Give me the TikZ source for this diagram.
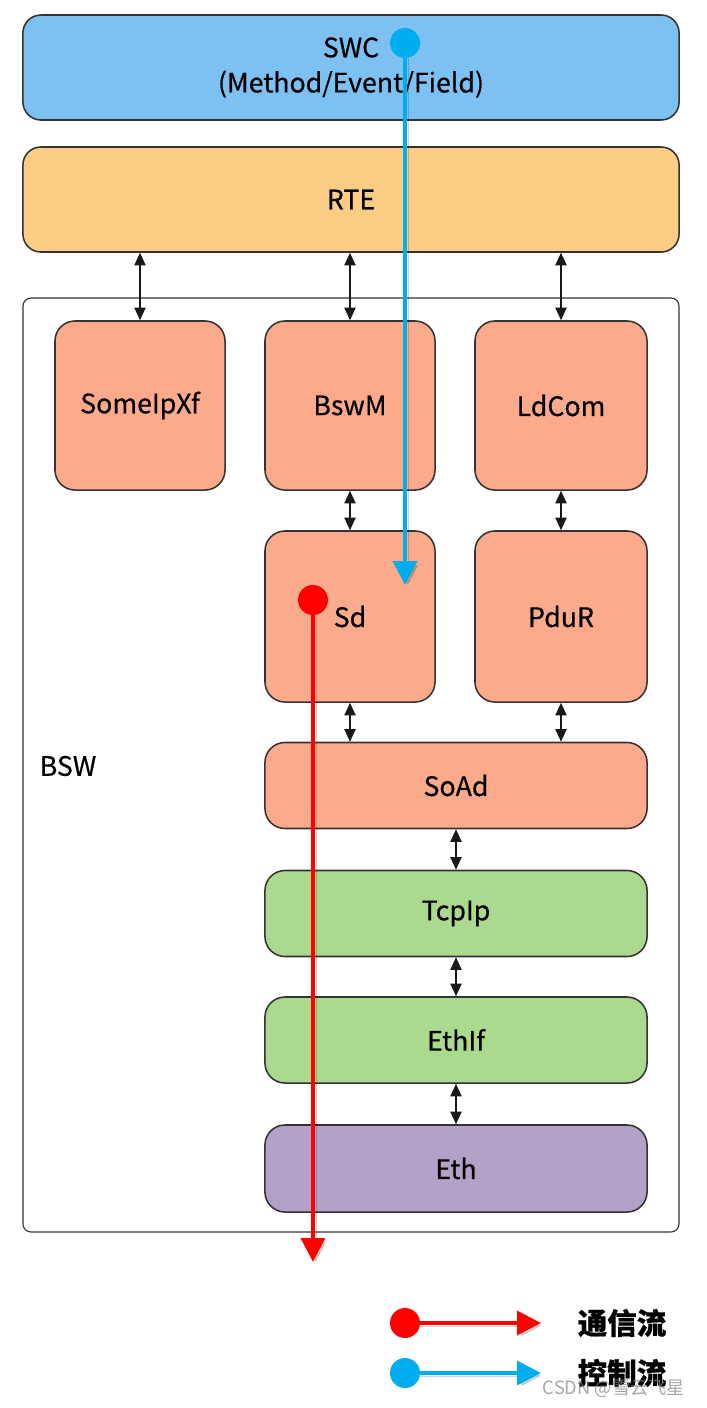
\documentclass[tikz,border=0pt]{standalone}
\usepackage{fontspec}
\setmainfont{Noto Sans CJK SC}[FakeBold=0.5]
\newfontfamily\markfont{Noto Sans CJK SC}
\usetikzlibrary{arrows.meta}
\definecolor{swcblue}{HTML}{7DC1F2}
\definecolor{rteorange}{HTML}{FDCD85}
\definecolor{bswsalmon}{HTML}{FBAA8C}
\definecolor{ethgreen}{HTML}{ABDA8F}
\definecolor{ethpurple}{HTML}{B3A2C7}
\definecolor{boxline}{HTML}{333333}
\definecolor{flowblue}{HTML}{00ADEF}
\definecolor{flowred}{HTML}{FF0000}
\tikzset{
  layer/.style={draw=boxline, line width=1.1pt, rounded corners=0.45cm,
    minimum width=16.4cm, minimum height=2.625cm, align=center},
  bswmod/.style={draw=boxline, line width=1.1pt, rounded corners=0.5cm,
    fill=bswsalmon, minimum width=4.25cm, minimum height=4.225cm},
  widemod/.style={bswmod, minimum width=9.55cm, minimum height=2.15cm},
  link/.style={{Triangle[length=9pt,width=8pt]}-{Triangle[length=9pt,width=8pt]},
    line width=1.1pt, draw=black!90},
  flow/.style={line width=2.5pt, -{Triangle[length=17pt,width=17pt]},
    preaction={draw=black, opacity=0.18, transform canvas={shift={(2pt,-2pt)}}}},
  flowdot/.style={circle, inner sep=0pt, minimum size=0.75cm}
}
\begin{document}
\begin{tikzpicture}[x=0.025cm, y=-0.025cm,
    font=\fontsize{19}{25}\selectfont]
  \useasboundingbox (0,0) rectangle (706,1408);
  \node[layer, fill=swcblue] (swc) at (351,67.5) {SWC\\(Method/Event/Field)};
  \node[layer, fill=rteorange] (rte) at (351,199.5) {RTE};
  \draw[boxline, line width=0.8pt, rounded corners=0.2cm] (23,298) rectangle (679,1232);
  \node (bsw) at (68,766) {BSW};
  \node[bswmod] (someipxf) at (140,405.5) {SomeIpXf};
  \node[bswmod] (bswm) at (350,405.5) {BswM};
  \node[bswmod, minimum width=4.3cm] (ldcom) at (561,405.5) {LdCom};
  \node[bswmod, minimum height=4.275cm] (sd) at (350,616.5) {Sd};
  \node[bswmod, minimum width=4.3cm, minimum height=4.275cm] (pdur) at (561,616.5) {PduR};
  \node[widemod] (soad) at (456,785.5) {SoAd};
  \node[widemod, fill=ethgreen] (tcpip) at (456,913.5) {TcpIp};
  \node[widemod, fill=ethgreen] (ethif) at (456,1040) {EthIf};
  \node[widemod, fill=ethpurple, minimum height=2.175cm] (eth) at (456,1168.5) {Eth};
  \draw[link] (someipxf.north |- rte.south) -- (someipxf.north);
  \draw[link] (bswm.north |- rte.south) -- (bswm.north);
  \draw[link] (ldcom.north |- rte.south) -- (ldcom.north);
  \draw[link] (bswm.south) -- (sd.north);
  \draw[link] (ldcom.south) -- (pdur.north);
  \draw[link] (sd.south) -- (sd.south |- soad.north);
  \draw[link] (pdur.south) -- (pdur.south |- soad.north);
  \draw[link] (soad.south) -- (tcpip.north);
  \draw[link] (tcpip.south) -- (ethif.north);
  \draw[link] (ethif.south) -- (eth.north);
  \coordinate (ctlsrc) at (405,43);
  \coordinate (ctlend) at (405,585);
  \draw[flow, flowblue] (ctlsrc) -- (ctlend);
  \node[flowdot, fill=flowblue] (ctldot) at (ctlsrc) {};
  \coordinate (commsrc) at (313,600);
  \coordinate (commend) at (313,1262);
  \draw[flow, flowred] (commsrc) -- (commend);
  \node[flowdot, fill=flowred] (commdot) at (commsrc) {};
  \coordinate (commkey) at (405,1323);
  \coordinate (commkeyend) at (541,1323);
  \draw[flow, flowred] (commkey) -- (commkeyend);
  \node[flowdot, fill=flowred] (commkeydot) at (commkey) {};
  \node[font=\fontsize{21}{25}\bfseries] (commtext) at (622,1323) {通信流};
  \coordinate (ctlkey) at (405,1373);
  \coordinate (ctlkeyend) at (541,1373);
  \draw[flow, flowblue] (ctlkey) -- (ctlkeyend);
  \node[flowdot, fill=flowblue] (ctlkeydot) at (ctlkey) {};
  \node[font=\fontsize{21}{25}\bfseries] (ctltext) at (622,1373) {控制流};
  \node[font=\markfont\fontsize{13}{15}\selectfont, text=gray, opacity=0.7] (mark) at (614,1389) {CSDN @雪云飞星};
\end{tikzpicture}
\end{document}
